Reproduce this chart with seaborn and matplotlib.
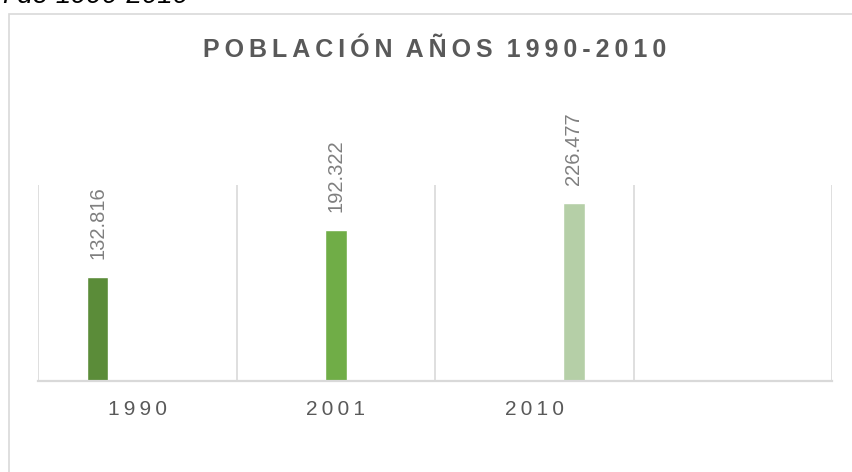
import pandas as pd
import matplotlib.pyplot as plt
import seaborn as sns
from matplotlib.patches import Rectangle

# data (population, thousands separator '.')
years = ['1990', '2001', '2010', ' ']
series = ['1990', '2001', '2010']
population = [132816, 192322, 226477]
colors = ['#5B8C39', '#70AD47', '#B5CFA7']

df = pd.DataFrame({'year': series, 'serie': series, 'poblacion': population})

sns.set_theme(style='white')
plt.rcParams['font.family'] = ['Liberation Sans', 'DejaVu Sans']

TS = '\u2009'  # thin space for letter spacing


def spaced(text, sep=TS):
    return sep.join(text)


fig = plt.figure(figsize=(8.53, 4.72), dpi=100)
ax = fig.add_axes([38 / 853, 1 - 381 / 472, (832 - 38) / 853, (381 - 185) / 472])

sns.barplot(data=df, x='year', y='poblacion', hue='serie', order=years,
            hue_order=series, palette=colors, width=0.6, gap=0.45, dodge=True,
            saturation=1, legend=False, ax=ax)

for cont in ax.containers:
    ax.bar_label(cont, fmt=lambda v: f'{v:,.0f}'.replace(',', '.'),
                 rotation=90, padding=13, fontsize=14.5, color='#7F7F7F')

ax.set_xlim(-0.5, 3.5)
ax.set_ylim(0, 250000)
ax.set_xlabel('')
ax.set_ylabel('')
ax.set_yticks([])
ax.set_xticks(range(len(years)))
ax.set_xticklabels([spaced(y) for y in years], fontsize=15, color='#595959')
ax.tick_params(axis='x', length=0, pad=14)

# vertical gridlines at category boundaries
for b in [-0.5, 0.5, 1.5, 2.5, 3.5]:
    ax.axvline(b, color='#D9D9D9', lw=1.2, zorder=0)

for s in ['top', 'left', 'right']:
    ax.spines[s].set_visible(False)
ax.spines['bottom'].set_color('#D9D9D9')
ax.spines['bottom'].set_linewidth(1.6)

# chart area border (cropped on right and bottom)
fig.patches.append(Rectangle((8.5 / 853, -0.05), 1.0, 1 - 13.5 / 472 + 0.05,
                             transform=fig.transFigure, fill=False,
                             edgecolor='#D9D9D9', lw=1.2))

fig.text(435 / 853, 1 - 50 / 472,
         spaced('POBLACIÓN') + '  ' + spaced('AÑOS') + '  ' + spaced('1990-2010'),
         ha='center', va='center', fontsize=18, fontweight='bold', color='#595959')

# caption cut off at the top of the page
fig.text(188 / 853, 1 - 3 / 472, 'Población de 1990-2010', ha='right', va='baseline',
         fontsize=20, style='italic', color='black')

fig.savefig('out.png', dpi=100)
